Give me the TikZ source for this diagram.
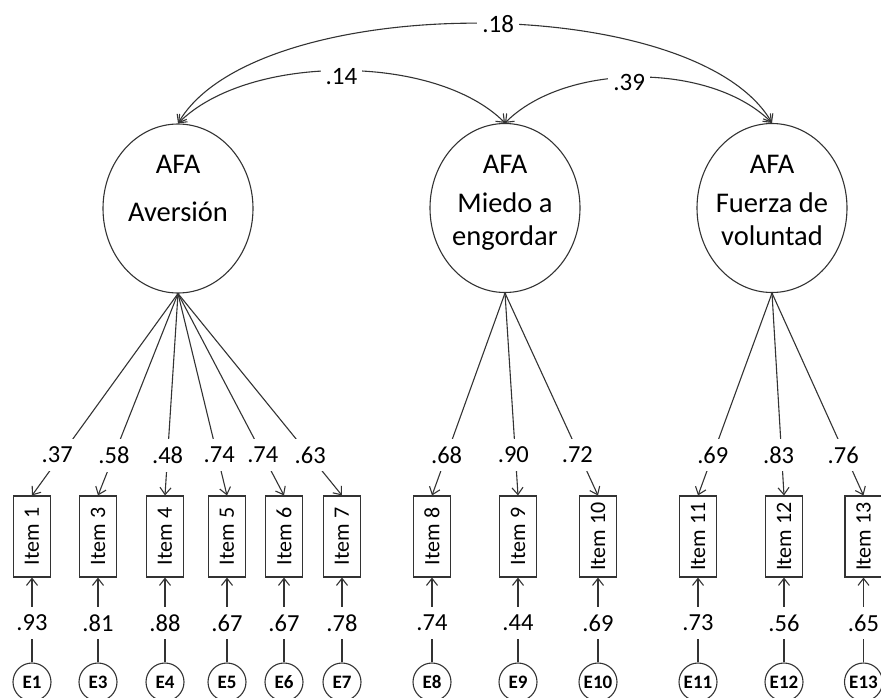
\documentclass[tikz,border=0pt]{standalone}
\usepackage{fontspec}
\setmainfont{Carlito}
\usetikzlibrary{arrows.meta,shapes.geometric}
\begin{document}
\begin{tikzpicture}[x=1pt,y=-1pt,
  line/.style={draw=black!80, line width=1.1pt},
  tip/.style={-{Straight Barb[length=7pt,width=11pt]}},
  tips/.style={{Straight Barb[length=7pt,width=11pt]}-{Straight Barb[length=7pt,width=11pt]}},
  factor/.style={ellipse, draw=black!80, line width=1.1pt, minimum width=150pt, minimum height=169pt, inner sep=0pt},
  ftxt/.style={font=\fontsize{28.5}{32}\selectfont, anchor=base, inner sep=0pt},
  item/.style={draw=black!80, line width=1.1pt, minimum width=37pt, minimum height=81pt, inner sep=0pt, font=\fontsize{22}{26}\selectfont},
  err/.style={circle, draw=black!80, line width=1.1pt, minimum size=38pt, inner sep=0pt, font=\bfseries\fontsize{19}{21}\selectfont},
  num/.style={font=\fontsize{24.5}{28}\selectfont, fill=white, inner xsep=2pt, inner ysep=8pt},
  cov/.style={font=\fontsize{25}{28}\selectfont, fill=white, inner xsep=5pt, inner ysep=1pt}
]
\useasboundingbox (0,0) rectangle (881,697);
\clip (0,0) rectangle (881,697);

% factors
\node[factor] (F1) at (178,208.5) {};
\node[factor] (F2) at (505,208) {};
\node[factor] (F3) at (772,208) {};
\node[ftxt] (t1a) at (178,173) {AFA};
\node[ftxt] (t1b) at (178,221) {Aversión};
\node[ftxt] (t2a) at (505,173) {AFA};
\node[ftxt] (t2b) at (505,212) {Miedo a};
\node[ftxt] (t2c) at (505,245) {engordar};
\node[ftxt] (t3a) at (772,173) {AFA};
\node[ftxt] (t3b) at (772,212) {Fuerza de};
\node[ftxt] (t3c) at (772,245) {voluntad};

% items and errors
\foreach \n/\x in {1/32,3/98,4/165,5/227,6/284,7/342,8/432,9/518,10/598,11/698,12/784,13/863.5} {
  \node[item] (I\n) at (\x,536.5) {\rotatebox{90}{Item \n}};
  \node[err] (E\n) at (\x,682) {E\n};
}

% loadings
\foreach \f/\n/\v/\dx in {F1/1/.37/-4,F1/3/.58/0,F1/4/.48/0,F1/5/.74/2,F1/6/.74/0,F1/7/.63/1,F2/8/.68/0,F2/9/.90/-2,F2/10/.72/-2,F3/11/.69/0,F3/12/.83/-3,F3/13/.76/-2} {
  \draw[line,tip] (\f.south) -- node[num,pos=0.8,xshift=\dx pt] (L\n) {\v} (I\n.north);
}

% errors
\foreach \n/\v in {1/.93,3/.81,4/.88,5/.67,6/.67,7/.78,8/.74,9/.44,10/.69,11/.73,12/.56,13/.65} {
  \draw[line,tip] (E\n.north) -- node[num,pos=0.465] (R\n) {\v} (I\n.south);
}

% covariances
\draw[line,tips] (F1.north) .. controls +(77,-133) and +(-77,-133) .. node[cov,pos=0.53] (c18) {.18} (F3.north);
\draw[line,tips] (F1.north) .. controls +(70,-70) and +(-70,-70) .. node[cov,pos=0.5,yshift=-6pt] (c14) {.14} (F2.north);
\draw[line,tips] (F2.north) .. controls +(61,-61) and +(-61,-61) .. node[cov,pos=0.47,yshift=-5pt] (c39) {.39} (F3.north);
\end{tikzpicture}
\end{document}
